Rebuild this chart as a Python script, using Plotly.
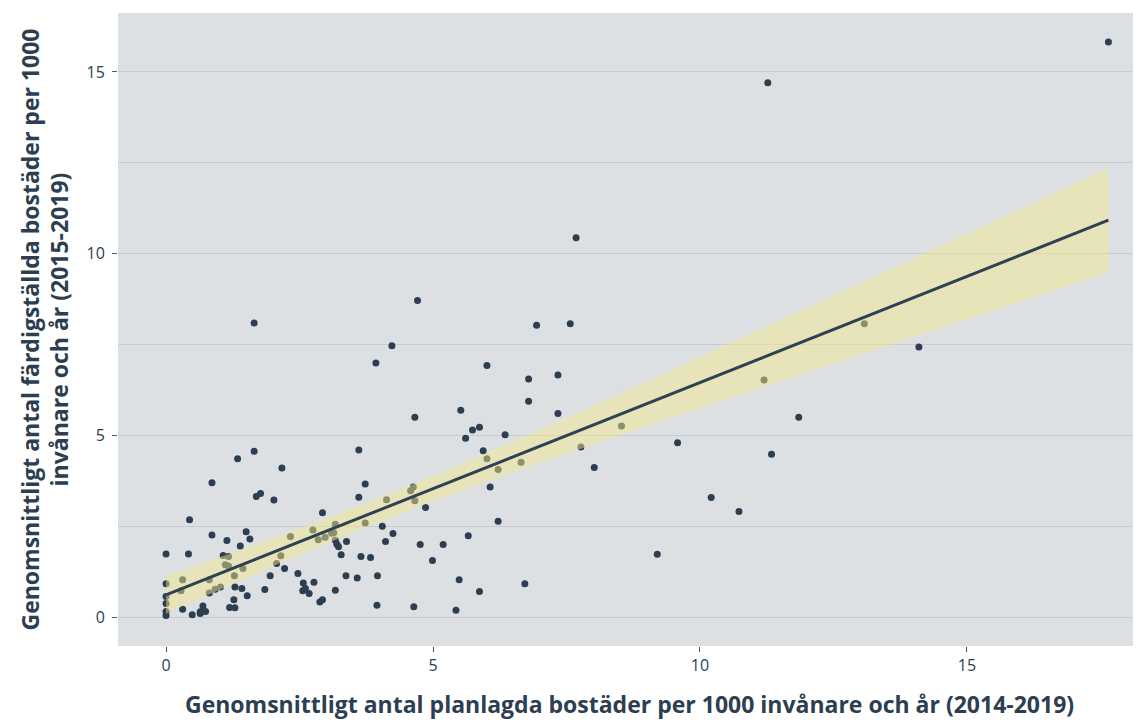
import numpy as np
import plotly.graph_objects as go

# Average planned dwellings per 1000 inhabitants and year (2014-2019)
planned = [
    0.00, 0.00, 0.00, 0.00, 0.00, 0.00, 0.31, 0.28, 0.31, 0.42,
    0.44, 0.49, 0.64, 0.64, 0.69, 0.74, 0.81, 0.81, 0.86, 0.86,
    0.92, 1.02, 1.07, 1.14, 1.17, 1.11, 1.17, 1.19, 1.27, 1.28,
    1.29, 1.29, 1.34, 1.39, 1.42, 1.44, 1.50, 1.52, 1.57, 1.65,
    1.65, 1.69, 1.77, 1.85, 1.95, 2.02, 2.07, 2.15, 2.17, 2.22,
    2.33, 2.47, 2.57, 2.56, 2.61, 2.68, 2.77, 2.75, 2.85, 2.88,
    2.93, 2.93, 2.98, 3.10, 3.14, 3.17, 3.17, 3.20, 3.23, 3.17,
    3.28, 3.38, 3.37, 3.58, 3.61, 3.61, 3.65, 3.73, 3.73, 3.83,
    3.93, 3.95, 3.96, 4.05, 4.11, 4.13, 4.23, 4.25, 4.58, 4.63,
    4.64, 4.66, 4.66, 4.71, 4.76, 4.86, 4.99, 5.19, 5.43, 5.49,
    5.52, 5.61, 5.66, 5.74, 5.87, 5.87, 5.94, 6.01, 6.01, 6.07,
    6.22, 6.22, 6.35, 6.65, 6.72, 6.79, 6.79, 6.94, 7.34, 7.34,
    7.57, 7.77, 8.02, 8.53, 9.58, 9.20, 10.21, 10.73, 7.68, 11.27,
    11.20, 11.34, 11.85, 13.08, 14.10, 17.65,
]

# Average completed dwellings per 1000 inhabitants and year (2015-2019)
completed = [
    1.75, 0.93, 0.58, 0.39, 0.17, 0.06, 1.04, 0.74, 0.23, 1.75,
    2.69, 0.08, 0.11, 0.16, 0.32, 0.17, 1.04, 0.68, 3.71, 2.27,
    0.78, 0.84, 1.71, 2.12, 1.68, 1.45, 1.42, 0.28, 0.49, 1.15,
    0.27, 0.84, 4.37, 1.97, 0.80, 1.35, 2.36, 0.60, 2.16, 8.10,
    4.57, 3.33, 3.41, 0.77, 1.15, 3.23, 1.49, 1.70, 4.11, 1.35,
    2.23, 1.21, 0.95, 0.74, 0.80, 0.66, 0.97, 2.41, 2.14, 0.43,
    0.49, 2.88, 2.21, 2.32, 2.33, 2.57, 2.13, 2.02, 1.95, 0.75,
    1.73, 2.09, 1.15, 1.09, 4.61, 3.31, 1.68, 3.67, 2.60, 1.65,
    7.00, 0.34, 1.15, 2.51, 2.09, 3.24, 7.47, 2.31, 3.49, 3.59,
    0.30, 5.51, 3.21, 8.72, 2.01, 3.03, 1.57, 2.01, 0.20, 1.04,
    5.70, 4.93, 2.25, 5.16, 5.23, 0.72, 4.59, 4.37, 6.93, 3.59,
    4.07, 2.65, 5.03, 4.27, 0.93, 6.56, 5.95, 8.04, 6.67, 5.61,
    8.08, 4.69, 4.13, 5.27, 4.81, 1.74, 3.30, 2.92, 10.44, 14.70,
    6.53, 4.49, 5.51, 8.08, 7.44, 15.82,
]

x_ticks = [0, 5, 10, 15]
y_ticks = [0, 5, 10, 15]

x_title = "Genomsnittligt antal planlagda bostäder per 1000 invånare och år (2014-2019)"
y_title = "Genomsnittligt antal färdigställda bostäder per 1000<br>invånare och år (2015-2019)"

# Linear model with 95% confidence band (as geom_smooth(method="lm"))
x = np.array(planned)
y = np.array(completed)
n = len(x)
xm, ym = x.mean(), y.mean()
sxx = ((x - xm) ** 2).sum()
slope = ((x - xm) * (y - ym)).sum() / sxx
intercept = ym - slope * xm
resid = y - (intercept + slope * x)
s = np.sqrt((resid ** 2).sum() / (n - 2))
t_crit = 1.978
xs = np.linspace(x.min(), x.max(), 80)
fit = intercept + slope * xs
half = t_crit * s * np.sqrt(1.0 / n + (xs - xm) ** 2 / sxx)
lower = fit - half
upper = fit + half

DARK = "#2c3e50"
FONT = "'Open Sans', 'Noto Sans', sans-serif"

fig = go.Figure()
fig.add_trace(go.Scatter(
    x=planned, y=completed, mode="markers",
    marker=dict(size=7, color=DARK, line=dict(width=0)),
    showlegend=False, hoverinfo="x+y",
))
fig.add_trace(go.Scatter(
    x=np.concatenate([xs, xs[::-1]]), y=np.concatenate([upper, lower[::-1]]),
    mode="lines", fill="toself", fillcolor="rgba(242,232,140,0.48)",
    line=dict(width=0), showlegend=False, hoverinfo="skip",
))
fig.add_trace(go.Scatter(
    x=xs, y=fit, mode="lines", line=dict(color="#2f4254", width=3),
    showlegend=False, hoverinfo="skip",
))

fig.update_layout(
    width=1133, height=714,
    margin=dict(l=110, r=0, t=5, b=76),
    paper_bgcolor="white", plot_bgcolor="#dde0e3",
    font=dict(family=FONT, color=DARK, size=16),
    xaxis=dict(
        range=[-0.9, 18.26], tickvals=x_ticks, ticks="outside", ticklen=5,
        tickcolor="#555", tickwidth=1, showgrid=False, zeroline=False,
        showline=False, tickfont=dict(size=16, color=DARK),
    ),
    yaxis=dict(
        range=[-0.78, 16.62], tickvals=y_ticks, ticks="outside", ticklen=5,
        tickcolor="#555", tickwidth=1, showgrid=True, gridcolor="#c8cbcf",
        gridwidth=1, zeroline=False, showline=False,
        tickfont=dict(size=16, color=DARK), ticklabelstandoff=4,
        minor=dict(tickvals=[2.5, 7.5, 12.5], showgrid=True,
                   gridcolor="#c8cbcf", gridwidth=1, ticks=""),
    ),
    annotations=[
        dict(text=x_title, xref="paper", yref="paper", x=0.5, y=0,
             xanchor="center", yanchor="middle", yshift=-58, showarrow=False,
             font=dict(size=23, family=FONT, color=DARK, weight="bold")),
        dict(text=y_title, xref="paper", yref="paper", x=0, y=0.5,
             xanchor="center", yanchor="middle", xshift=-74, textangle=-90,
             showarrow=False, align="center",
             font=dict(size=23, family=FONT, color=DARK, weight="bold")),
    ],
)

fig.write_html("out.html")
